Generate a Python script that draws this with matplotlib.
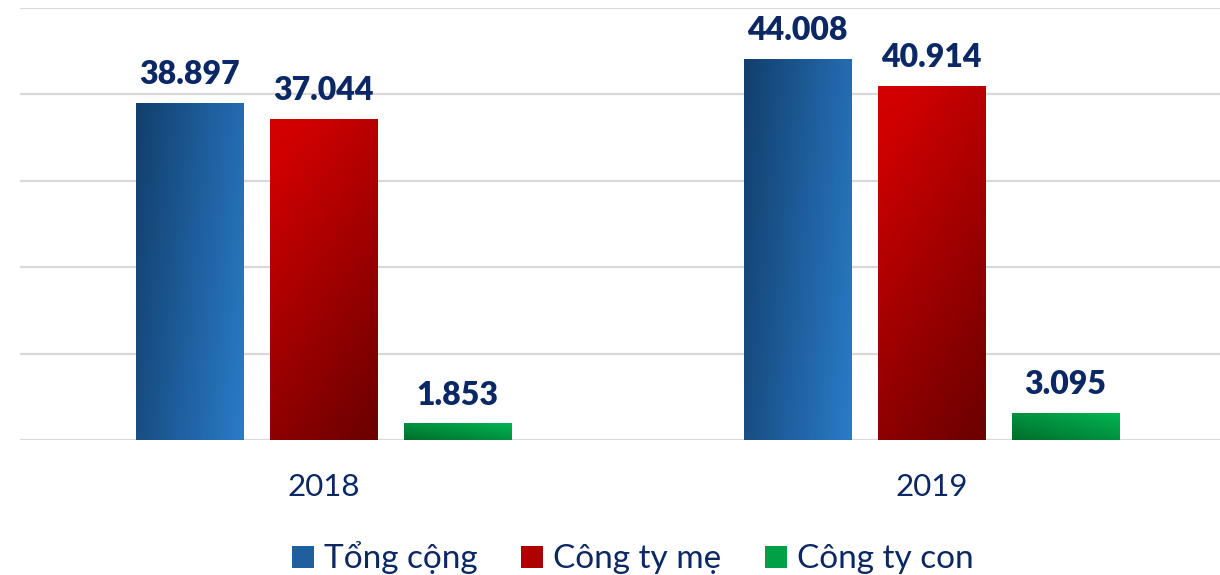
import numpy as np
import matplotlib
matplotlib.use("Agg")
import matplotlib.pyplot as plt
from matplotlib.colors import LinearSegmentedColormap
from matplotlib.patches import Patch

years = ["2018", "2019"]
series_names = ["Tổng cộng", "Công ty mẹ", "Công ty con"]
tong_cong = [38.897, 44.008]
cong_ty_me = [37.044, 40.914]
cong_ty_con = [1.853, 3.095]
value_labels = [["38.897", "44.008"], ["37.044", "40.914"], ["1.853", "3.095"]]

plt.rcParams['font.family'] = ['Lato', 'DejaVu Sans']
navy = '#0b2864'

# gradient start -> end colours for each series
grads = [
    ('#123f6c', '#2a7bc8'),
    ('#d20000', '#6a0000'),
    ('#00b552', '#006e2c'),
]
solid = ['#1f5f9e', '#b00000', '#00a046']

fig = plt.figure(figsize=(12.2, 5.75), dpi=100)
ax = fig.add_axes([19.5 / 1220, 135 / 575, 1216 / 1220, 432.5 / 575])

x = np.arange(len(years))
width = 0.176
offset = 0.2204
all_vals = [tong_cong, cong_ty_me, cong_ty_con]

# gradient images (row 0 = top of bar)
yy, xx = np.mgrid[0:1:64j, 0:1:64j]
gimgs = [
    xx * 0.75 + yy * 0.25,                      # blue: dark left -> light right
    np.clip(xx * 0.35 + yy * 0.75 - 0.1, 0, 1),  # red: bright top -> dark bottom-right
    (1 - xx) * 0.5 + yy * 0.5,                  # green: bright top-right -> dark bottom-left
]

for i, vals in enumerate(all_vals):
    bars = ax.bar(x + (i - 1) * offset, vals, width, color='none', zorder=3)
    cmap = LinearSegmentedColormap.from_list('g%d' % i, grads[i])
    for b, v, lab in zip(bars, vals, value_labels[i]):
        x0, y0 = b.get_x(), b.get_y()
        w, h = b.get_width(), b.get_height()
        ax.imshow(gimgs[i], cmap=cmap, vmin=0, vmax=1, extent=[x0, x0 + w, y0, y0 + h],
                  origin='upper', aspect='auto', zorder=3, interpolation='bicubic')
        ax.annotate(lab, (x0 + w / 2, v), xytext=(0, 14), textcoords='offset points',
                    ha='center', va='baseline', fontsize=23, fontweight='heavy',
                    color=navy, zorder=4)

ax.set_xlim(-0.5, 1.5)
ax.set_ylim(0, 50)
ax.set_yticks([0, 10, 20, 30, 40, 50])
ax.set_yticklabels([])
ax.tick_params(axis='y', length=0)
ax.grid(axis='y', color='#d9d9d9', linewidth=1.6, zorder=0)
ax.set_axisbelow(True)
for s in ax.spines.values():
    s.set_visible(False)

ax.set_xticks(x)
ax.set_xticklabels(years, fontsize=22.5, color=navy)
ax.tick_params(axis='x', length=0, pad=24)

handles = [Patch(facecolor=c, edgecolor='none') for c in solid]
fig.legend(handles, series_names, loc='center', bbox_to_anchor=(633 / 1220, 1 - 558 / 575),
           ncol=3, frameon=False, fontsize=24, labelcolor=navy,
           handlelength=0.66, handleheight=0.66, handletextpad=0.3, columnspacing=1.3,
           borderaxespad=0, borderpad=0)

fig.savefig('out.png', dpi=100)
